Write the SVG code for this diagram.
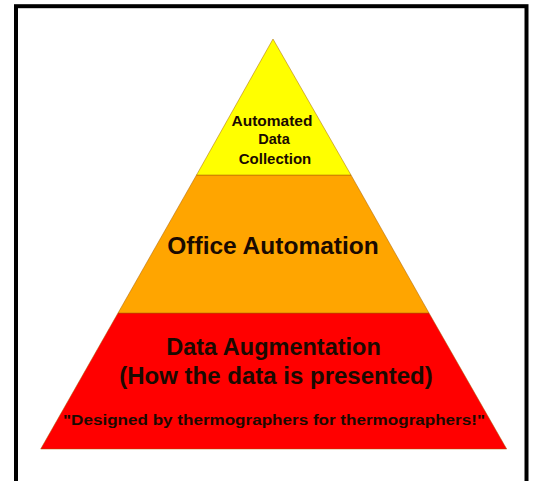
<svg xmlns="http://www.w3.org/2000/svg" width="536" height="481" viewBox="0 0 536 481">
<style>
.t{font-family:"Liberation Sans",Arial,sans-serif;font-weight:bold;fill:#1a0a00;text-anchor:middle}
.layer{stroke:#a05a00;stroke-width:0.8;stroke-opacity:0.6}
</style>
<rect x="0" y="0" width="536" height="481" fill="#ffffff"/>
<rect x="16" y="6.2" width="510.5" height="490" fill="none" stroke="#000000" stroke-width="4"/>
<g id="layer-bottom">
<polygon class="layer" points="118,313 429,313 506.7,449 40.7,449" fill="#ff0000"/>
<text class="t" x="273.5" y="355" font-size="23.5">Data Augmentation</text>
<text class="t" x="276" y="384" font-size="24">(How the data is presented)</text>
<text class="t" x="274" y="425" font-size="14.5" textLength="422" lengthAdjust="spacingAndGlyphs">"Designed by thermographers for thermographers!"</text>
</g>
<g id="layer-middle">
<polygon class="layer" points="196.5,175 351,175 429,313 118,313" fill="#ffa500"/>
<text class="t" x="273" y="254" font-size="24.5">Office Automation</text>
</g>
<g id="layer-top">
<polygon class="layer" points="273,39 351,175 196.5,175" fill="#ffff00"/>
<text class="t" x="272" y="126" font-size="15.5">Automated</text>
<text class="t" x="274" y="144" font-size="14.5">Data</text>
<text class="t" x="275" y="164" font-size="15">Collection</text>
</g>
<g id="connectors"></g>
</svg>
